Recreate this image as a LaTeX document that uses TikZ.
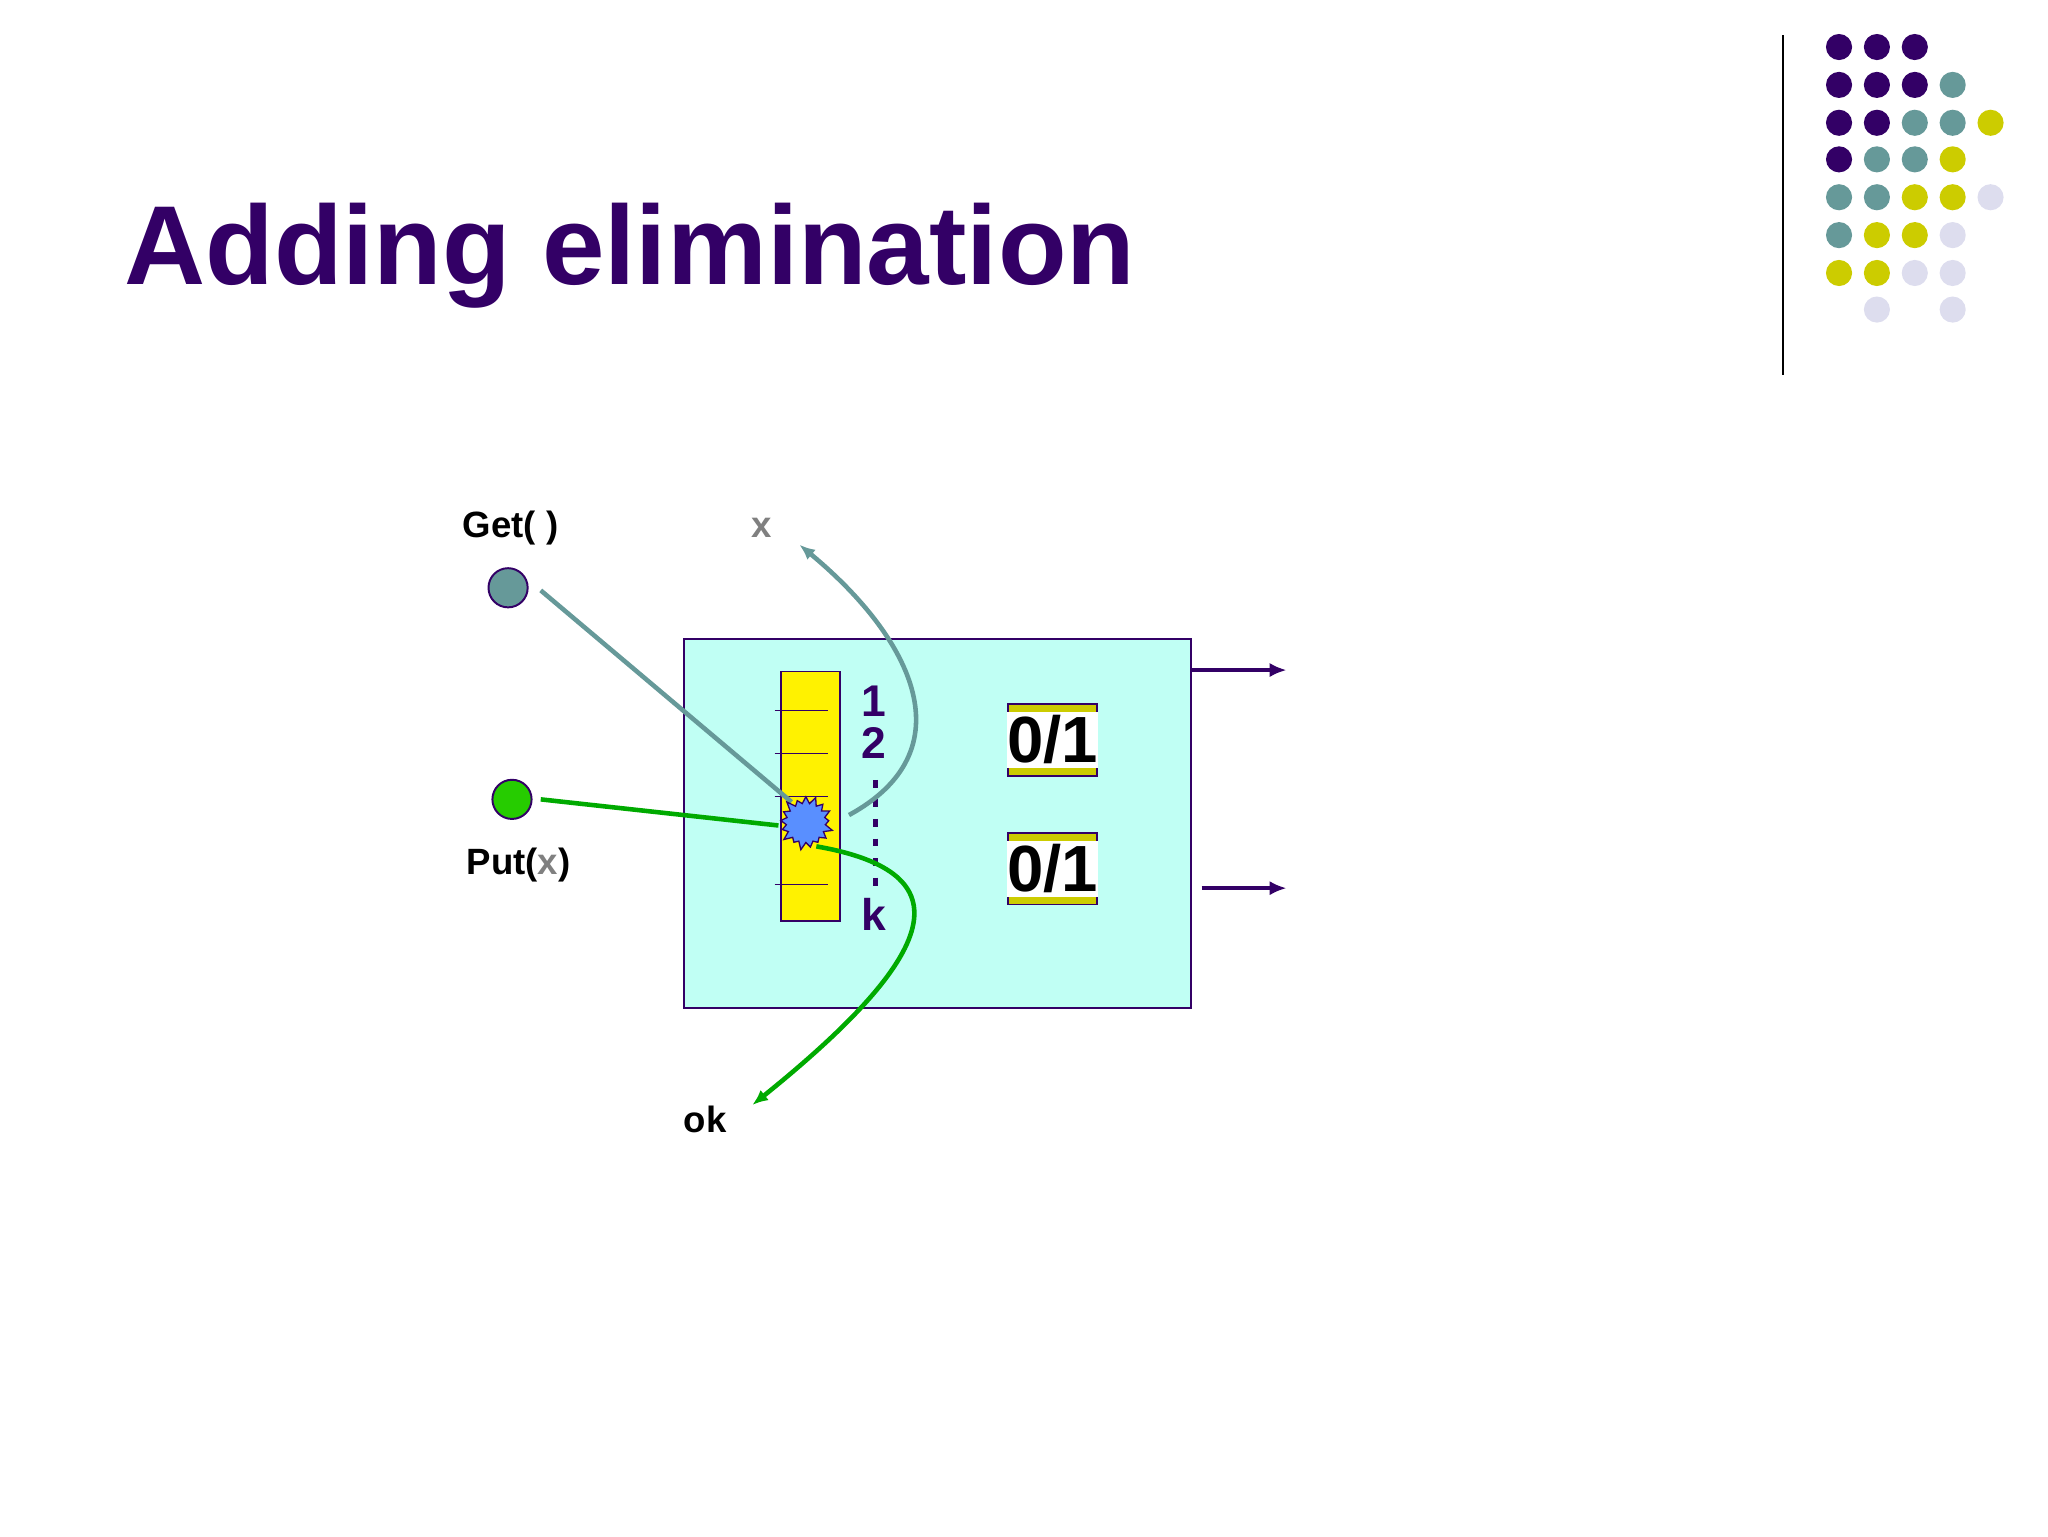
\documentclass[tikz,border=0pt]{standalone}
\usepackage{fontspec}
\setmainfont{Liberation Sans}
\usetikzlibrary{shapes.symbols,arrows.meta}
\definecolor{pur}{HTML}{330066}
\definecolor{tea}{HTML}{669999}
\definecolor{yel}{HTML}{CCCC00}
\definecolor{lav}{HTML}{DDDDEE}
\definecolor{cyanf}{HTML}{C0FFF4}
\definecolor{grn}{HTML}{00AA00}
\tikzset{dot/.style={circle,inner sep=0pt,minimum size=20pt},
 lbl/.style={font=\bfseries\fontsize{28}{30}\selectfont},
 num/.style={font=\bfseries\fontsize{34}{36}\selectfont,text=pur},
 bit/.style={draw=pur,fill=yel,minimum width=68pt,minimum height=55pt,line width=1.5pt,inner sep=0pt,
   label={[fill=white,minimum width=56pt,minimum height=43pt,inner sep=0pt,font=\bfseries\fontsize{50}{50}\selectfont]center:0/1}}}
\begin{document}
\begin{tikzpicture}[x=1pt,y=-1pt]
\useasboundingbox (0,0) rectangle (1568,1176);
\node[anchor=base west,text=pur,font=\bfseries\fontsize{86}{90}\selectfont,inner sep=0pt] (title) at (95,218) {Adding elimination};
\draw[line width=1.2pt] (1365,27) -- (1365,287);
\foreach \c/\x/\y in {pur/1408/36,pur/1437/36,pur/1466/36,
 pur/1408/65,pur/1437/65,pur/1466/65,tea/1495/65,
 pur/1408/94,pur/1437/94,tea/1466/94,tea/1495/94,yel/1524/94,
 pur/1408/122,tea/1437/122,tea/1466/122,yel/1495/122,
 tea/1408/151,tea/1437/151,yel/1466/151,yel/1495/151,lav/1524/151,
 tea/1408/180,yel/1437/180,yel/1466/180,lav/1495/180,
 yel/1408/209,yel/1437/209,lav/1466/209,lav/1495/209,
 lav/1437/237,lav/1495/237}
 \node[dot,fill=\c] at (\x,\y) {};
% main box
\node[draw=pur,fill=cyanf,line width=1.5pt,minimum width=388pt,minimum height=283pt,inner sep=0pt] (box) at (718,630.5) {};
\node[draw=pur,fill=yellow,line width=1.2pt,minimum width=45pt,minimum height=191pt,inner sep=0pt] (arr) at (620.5,609.5) {};
\foreach \y in {544,577,610,677} \draw[pur,line width=1pt] (593,\y) -- (634,\y);
\node[num] (n1) at (669,537) {1};
\node[num] (n2) at (669,569) {2};
\draw[pur,line width=4pt,dash pattern=on 6pt off 9pt] (670,597) -- (670,685);
\node[num] (nk) at (669,700) {k};
\node[bit] (b1) at (806,566.5) {};
\node[bit] (b2) at (806,665) {};
\coordinate (r1s) at (912,513); \coordinate (r1e) at (985,513);
\coordinate (r2s) at (920,680); \coordinate (r2e) at (985,680);
\draw[pur,line width=3pt,-{Latex[length=13pt,width=11pt]}] (r1s) -- (r1e);
\draw[pur,line width=3pt,-{Latex[length=13pt,width=11pt]}] (r2s) -- (r2e);
% callers
\node[lbl] (get) at (391,404) {Get( )};
\node[circle,draw=pur,fill=tea,line width=1.5pt,minimum size=30pt,inner sep=0pt] (gc) at (389,450) {};
\node[circle,draw=pur,fill=green!75!lime!80!black,line width=1.5pt,minimum size=30pt,inner sep=0pt] (pc) at (392,612) {};
\node[lbl] (put) at (397,662) {Put(\textcolor{gray}{x})};
\node[lbl,text=gray] (xl) at (583,404) {x};
\node[lbl] (ok) at (540,857) {ok};
\coordinate (gs) at (414,452); \coordinate (ge) at (606,614);
\coordinate (ps) at (414,612); \coordinate (pe) at (596,632);
\draw[tea,line width=3.5pt] (gs) -- (ge);
\draw[grn,line width=3.5pt] (ps) -- (pe);
\node[starburst,starburst points=17,starburst point height=7pt,draw=pur,fill=blue!40!cyan!50!white!70!blue,line width=1pt,minimum size=44pt,inner sep=0pt] (burst) at (617,630) {};
\coordinate (tc) at (650,624); \coordinate (te) at (612,417);
\draw[tea,line width=3.5pt,-{Latex[length=12pt,width=10pt]}] (tc) .. controls (740,575) and (700,490) .. (te);
\coordinate (gc2) at (625,648); \coordinate (oe) at (576,846);
\draw[grn,line width=3.5pt,-{Latex[length=12pt,width=10pt]}] (gc2) .. controls (740,668) and (720,730) .. (oe);
\end{tikzpicture}
\end{document}
